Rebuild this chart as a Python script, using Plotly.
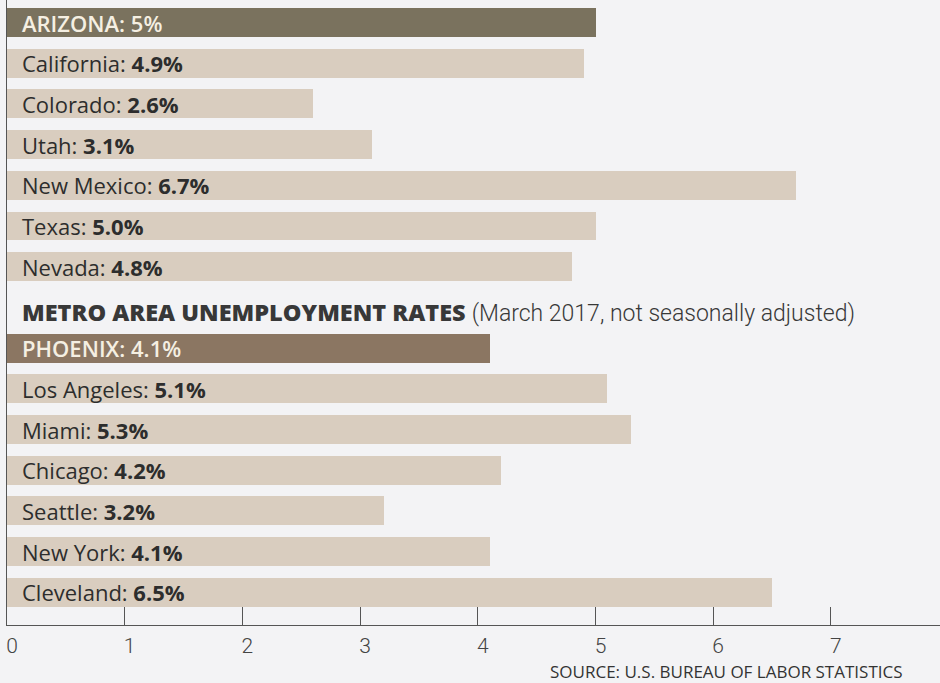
import plotly.graph_objects as go

# ---- data ----
states = ["ARIZONA", "California", "Colorado", "Utah", "New Mexico", "Texas", "Nevada"]
state_rates = [5.0, 4.9, 2.6, 3.1, 6.7, 5.0, 4.8]
state_value_text = ["5%", "4.9%", "2.6%", "3.1%", "6.7%", "5.0%", "4.8%"]

metros = ["PHOENIX", "Los Angeles", "Miami", "Chicago", "Seattle", "New York", "Cleveland"]
metro_rates = [4.1, 5.1, 5.3, 4.2, 3.2, 4.1, 6.5]
metro_value_text = ["4.1%", "5.1%", "5.3%", "4.2%", "3.2%", "4.1%", "6.5%"]

x_ticks = [0, 1, 2, 3, 4, 5, 6, 7]
section_title_bold = "METRO AREA UNEMPLOYMENT RATES"
section_title_rest = "(March 2017, not seasonally adjusted)"
source_text = "SOURCE: U.S. BUREAU OF LABOR STATISTICS"

# ---- styling ----
HL_STATE = "#7a725e"
HL_METRO = "#8b7662"
LIGHT = "#d9cdbf"
BG = "#f3f3f5"

# slot positions: states 0..6, section title at 7, metros 8..14
state_pos = list(range(len(states)))
title_pos = len(states)
metro_pos = [title_pos + 1 + i for i in range(len(metros))]

names = states + metros
rates = state_rates + metro_rates
vals = state_value_text + metro_value_text
pos = state_pos + metro_pos
highlight = [True] + [False] * (len(states) - 1) + [True] + [False] * (len(metros) - 1)
colors = []
for i, h in enumerate(highlight):
    if h:
        colors.append(HL_STATE if i < len(states) else HL_METRO)
    else:
        colors.append(LIGHT)

fig = go.Figure()
fig.add_trace(go.Bar(
    x=rates, y=pos, orientation="h", width=0.71,
    marker=dict(color=colors, line=dict(width=0)),
    hoverinfo="skip", showlegend=False,
))

annotations = []
for n, v, p, h in zip(names, vals, pos, highlight):
    if h:
        txt = f"{n}: {v}"
        fnt = dict(family="Open Sans", size=22, color="#f5efe2", weight=600)
    else:
        txt = f"{n}: <b>{v}</b>"
        fnt = dict(family="Open Sans", size=22, color="#2d2d2d", weight=400)
    annotations.append(dict(
        x=0, y=p, xref="x", yref="y", text=txt, showarrow=False,
        xanchor="left", yanchor="middle", xshift=13, font=fnt,
    ))

title_html = (
    f"<span style='font-family:Open Sans;font-weight:800;font-size:23.5px'>{section_title_bold}</span> "
    f"<span style='font-family:Roboto;font-weight:300;font-size:23px'>{section_title_rest}</span>"
)
annotations.append(dict(
    x=0, y=title_pos, xref="x", yref="y", text=title_html, showarrow=False,
    xanchor="left", yanchor="middle", xshift=13, yshift=-5,
    font=dict(family="Open Sans", size=23, color="#383838"),
))
annotations.append(dict(
    x=546 / 940, y=0, xref="paper", yref="paper", text=source_text, showarrow=False,
    xanchor="left", yanchor="middle", yshift=-46, borderpad=0,
    font=dict(family="Open Sans", size=17, color="#333333"),
))

px_per_unit = 117.7
plot_w = 940 - 7
slot_px = 40.7
first_center = 22.5
plot_h = 625

fig.update_layout(
    width=940, height=683,
    margin=dict(l=7, r=0, t=0, b=683 - plot_h),
    paper_bgcolor=BG, plot_bgcolor=BG,
    bargap=0,
    xaxis=dict(
        range=[0, plot_w / px_per_unit],
        tickvals=x_ticks, ticktext=[str(t) for t in x_ticks],
        ticks="inside", ticklen=18, tickcolor="#555", tickwidth=1,
        showline=True, linecolor="#555", linewidth=1,
        showgrid=False, zeroline=False,
        tickfont=dict(family="Roboto", size=21, color="#444", weight=300),
        ticklabelstandoff=2, ticklabelshift=5,
        fixedrange=True,
    ),
    yaxis=dict(
        range=[(plot_h - first_center) / slot_px, -first_center / slot_px],
        showticklabels=False, ticks="", showgrid=False, zeroline=False,
        showline=True, linecolor="#555", linewidth=1,
        fixedrange=True,
    ),
    annotations=annotations,
)

fig.write_html("out.html")
